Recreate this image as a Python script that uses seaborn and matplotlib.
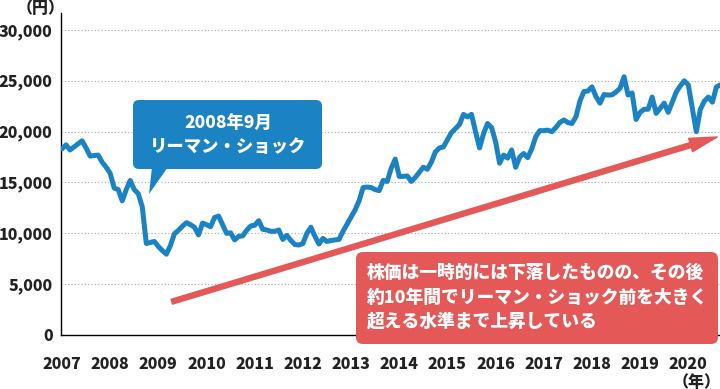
import numpy as np
import pandas as pd
import matplotlib
matplotlib.use("Agg")
import matplotlib.pyplot as plt
import seaborn as sns
from matplotlib.patches import FancyBboxPatch, Polygon
from matplotlib.transforms import Affine2D

# monthly level (yen), starting Jan 2007
nikkei = [
    18300, 18700, 18200, 18500, 18800, 19100, 18400, 17600, 17650, 17700, 17000, 16500,  # 2007
    15900, 14450, 14300, 13200, 14300, 15200, 14300, 13900, 12600, 9000, 9100, 9200,      # 2008
    8700, 8300, 7950, 8800, 9950, 10300, 10700, 11050, 10850, 10600, 9850, 11000,         # 2009
    10850, 10650, 11550, 11700, 10850, 10000, 10050, 9350, 9700, 9750, 10300, 10720,      # 2010
    10800, 11240, 10400, 10330, 10200, 10200, 10330, 9400, 9800, 9300, 8900, 8850,        # 2011
    9000, 10000, 10600, 9700, 8950, 9500, 9200, 9300, 9350, 9400, 10200, 10900,           # 2012
    11600, 12300, 13200, 14500, 14550, 14500, 14300, 14200, 15200, 15100, 16400, 17300,   # 2013
    15600, 15600, 15640, 15100, 15500, 16000, 16500, 16300, 17000, 18000, 18400, 18500,   # 2014
    19200, 19900, 20300, 20700, 21700, 21450, 21700, 20000, 18400, 19800, 20800, 20400,   # 2015
    19000, 16900, 17700, 17400, 18200, 16500, 17500, 17850, 17450, 18300, 19500, 20100,   # 2016
    20100, 20150, 20000, 20400, 20900, 21150, 20900, 20800, 21450, 23000, 23950, 24000,   # 2017
    24400, 23450, 22800, 23650, 23600, 23620, 23900, 24260, 25400, 23600, 23800, 21200,   # 2018
    21900, 22200, 22200, 23400, 21800, 22300, 22800, 21900, 22900, 23900, 24500, 25000,   # 2019
    24600, 22300, 20000, 22200, 23000, 23400, 22900, 24400, 24600,                        # 2020
]
years = list(range(2007, 2021))
yticks = [0, 5000, 10000, 15000, 20000, 25000, 30000]
callout_lines = ["2008年9月", "リーマン・ショック"]
note_lines = [
    "株価は一時的には下落したものの、その後",
    "約10年間でリーマン・ショック前を大きく",
    "超える水準まで上昇している",
]

BLUE = "#1b82c4"
RED = "#e55858"
TXT = "#222222"

df = pd.DataFrame({"year": 2007 + np.arange(len(nikkei)) / 12, "price": nikkei})

sns.set_style("white")
plt.rcParams["font.family"] = ["Noto Sans CJK JP", "DejaVu Sans"]

fig = plt.figure(figsize=(7.2, 3.89), dpi=100)
ax = fig.add_axes([61 / 720, 1 - 335 / 389, 659 / 720, 322 / 389])

sns.lineplot(data=df, x="year", y="price", color=BLUE, linewidth=3.6, ax=ax, zorder=3)

ax.set_xlim(2007 - 1 / 48.25, 2007 + 659 / 48.25)
ax.set_ylim(0, 31670)
ax.set_xticks(years)
ax.set_xticklabels([str(y) for y in years], fontweight="heavy")
ax.set_yticks(yticks)
ax.set_yticklabels([f"{v:,}" for v in yticks], fontweight="heavy")
ax.tick_params(axis="both", length=0, labelsize=11.5, colors=TXT)
ax.tick_params(axis="y", pad=6)
ax.tick_params(axis="x", pad=16)
ax.set_xlabel("")
ax.set_ylabel("")

ax.yaxis.grid(True, linestyle=(0, (1, 2)), color="#aaaaaa", linewidth=0.8)
ax.xaxis.grid(False)
ax.set_axisbelow(True)
for side in ["top", "right"]:
    ax.spines[side].set_visible(False)
for side in ["left", "bottom"]:
    ax.spines[side].set_color("black")
    ax.spines[side].set_linewidth(1.0)

# red trend arrow
ax.annotate("", xy=(2020.6, 19475), xytext=(2009.28, 3275),
            arrowprops=dict(arrowstyle="simple,head_length=1.0,head_width=0.5,tail_width=0.18",
                            mutation_scale=20, color=RED, shrinkA=0, shrinkB=0), zorder=2)

# pixel coordinates, origin top-left
px = Affine2D().scale(1 / 720, -1 / 389).translate(0, 1) + fig.transFigure

# blue callout
fig.add_artist(FancyBboxPatch((133, 100), 189, 69, boxstyle="round,pad=0,rounding_size=6",
                              fc=BLUE, ec="none", transform=px))
fig.add_artist(Polygon([(152, 167), (168, 167), (149, 194)], closed=True, fc=BLUE, ec="none",
                       transform=px))
for i, line in enumerate(callout_lines):
    fig.text(228, 123 + 24 * i, line, transform=px, ha="center", va="center",
             color="white", fontsize=12.5, fontweight="heavy")

# red note box
fig.add_artist(FancyBboxPatch((356, 252), 362, 92, boxstyle="round,pad=0,rounding_size=7",
                              fc=RED, ec="none", transform=px))
for i, line in enumerate(note_lines):
    fig.text(367, 273 + 24.5 * i, line, transform=px, ha="left", va="center",
             color="white", fontsize=12.8, fontweight="heavy")

# unit labels
fig.text(41, 8, "（円）", transform=px, ha="center", va="center", color=TXT,
         fontsize=11.5, fontweight="heavy")
fig.text(697, 382, "（年）", transform=px, ha="center", va="center", color=TXT,
         fontsize=11.5, fontweight="heavy")

fig.savefig("out.png", dpi=100)
